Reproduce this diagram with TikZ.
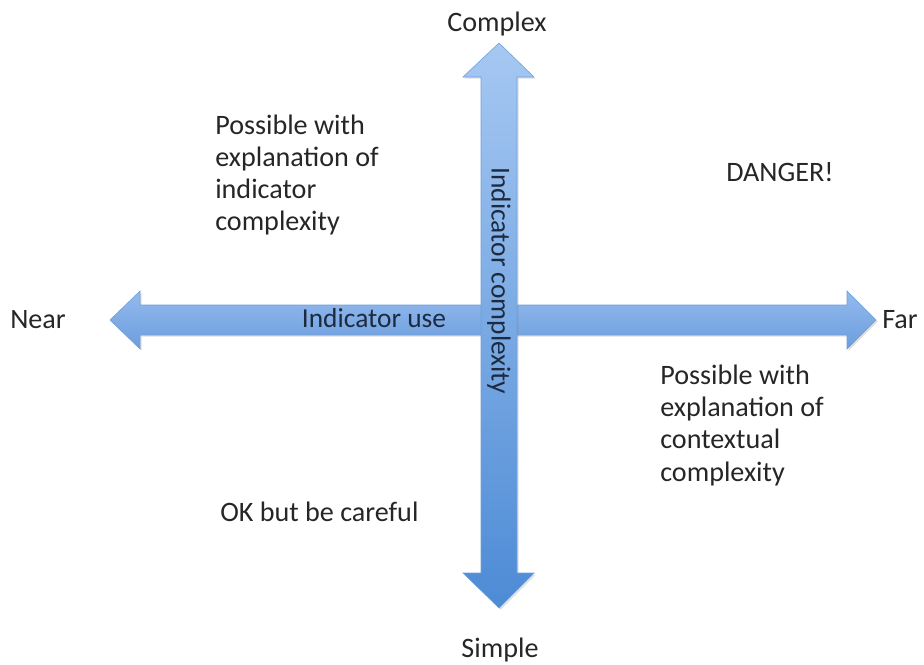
\documentclass[tikz,border=0pt]{standalone}
\usepackage{fontspec}
\setmainfont{Carlito}
\usepackage{tikz}
\usetikzlibrary{shadows}

\definecolor{arrowtop}{HTML}{A6C8F2}
\definecolor{arrowbot}{HTML}{4D8BD5}
\definecolor{hbartop}{HTML}{93BBEE}
\definecolor{hbarbot}{HTML}{6C9DDD}
\definecolor{arrowedge}{HTML}{6F9FDB}
\definecolor{labeltext}{HTML}{1E2A40}

\tikzset{
  axisarrow/.style={draw=arrowedge, line width=0.4pt, drop shadow={opacity=0.25, shadow xshift=1.2pt, shadow yshift=-1.2pt}},
  axislabel/.style={font=\fontsize{20}{22.8}\selectfont, text=black!85, inner sep=0pt},
  quadtext/.style={font=\fontsize{20}{22.8}\selectfont, text=black!85, inner sep=0pt, align=left},
  arrowtext/.style={font=\fontsize{19.5}{22.8}\selectfont, text=labeltext, inner sep=0pt}
}

\begin{document}
\begin{tikzpicture}[x=0.025cm, y=-0.025cm]
  \useasboundingbox (0,0) rectangle (924,664);

  % horizontal axis: indicator use
  \path[axisarrow, top color=hbartop, bottom color=hbarbot]
    (110,320) -- (140,291) -- (140,305) -- (847,305) -- (847,291) -- (876,320)
    -- (847,349) -- (847,335) -- (140,335) -- (140,349) -- cycle;

  % vertical axis: indicator complexity
  \path[axisarrow, top color=arrowtop, bottom color=arrowbot]
    (499,43) -- (534,77) -- (517,77) -- (517,573) -- (534,573) -- (499,608)
    -- (463,573) -- (481,573) -- (481,77) -- (463,77) -- cycle;

  \node[arrowtext] (use) at (374,318) {Indicator use};
  \node[arrowtext, rotate=-90] (complexity) at (499,281) {Indicator complexity};

  % axis ends
  \node[axislabel] (complex) at (497,24) {Complex};
  \node[axislabel] (simple) at (500,650) {Simple};
  \node[axislabel] (near) at (38,320) {Near};
  \node[axislabel] (far) at (900,320) {Far};

  % quadrants
  \node[quadtext, anchor=north west] (topleft) at (215,115)
    {Possible with\\explanation of\\indicator\\complexity};
  \node[quadtext, anchor=base west] (topright) at (726,181) {DANGER!};
  \node[quadtext, anchor=north west] (bottomright) at (660,365)
    {Possible with\\explanation of\\contextual\\complexity};
  \node[quadtext, anchor=base west] (bottomleft) at (220,521) {OK but be careful};
\end{tikzpicture}
\end{document}
